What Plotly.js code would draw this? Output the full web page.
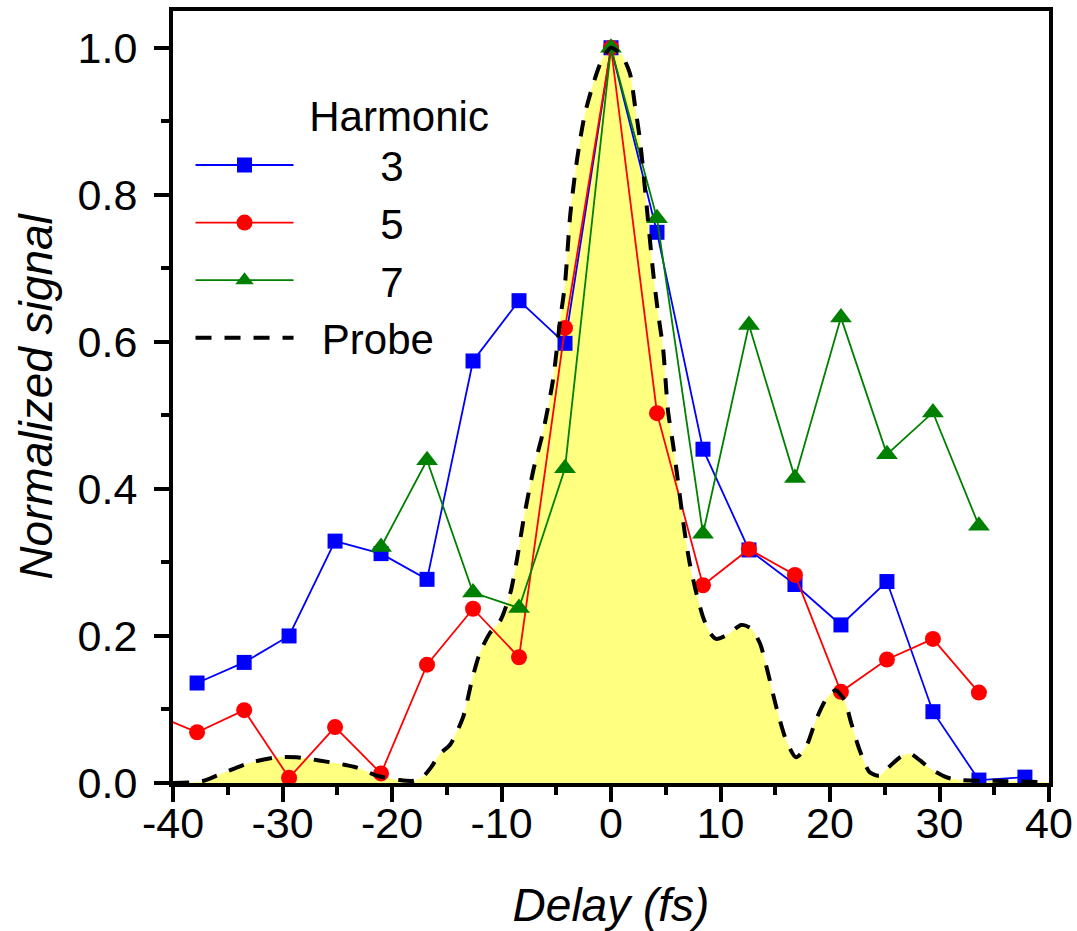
<!DOCTYPE html>
<html>
<head>
<meta charset="utf-8">
<script src="https://cdn.plot.ly/plotly-3.0.1.min.js"></script>
<style>html,body{margin:0;padding:0;background:#fff;}#chart{width:1077px;height:931px;}</style>
</head>
<body>
<div id="chart"></div>
<script>
// Harmonic 3 (blue squares)
const h3Delay = [-37.8, -33.5, -29.4, -25.2, -21.0, -16.8, -12.6, -8.4, -4.2, 0, 4.2, 8.4, 12.6, 16.8, 21.0, 25.2, 29.4, 33.6, 37.8];
const h3Signal = [0.136, 0.164, 0.200, 0.329, 0.312, 0.277, 0.574, 0.656, 0.598, 1.0, 0.749, 0.454, 0.317, 0.270, 0.215, 0.274, 0.097, 0.004, 0.008];

// Harmonic 5 (red circles)
const h5Delay = [-42.0, -37.8, -33.5, -29.4, -25.2, -21.0, -16.8, -12.6, -8.4, -4.2, 0, 4.2, 8.4, 12.6, 16.8, 21.0, 25.2, 29.4, 33.6];
const h5Signal = [0.095, 0.069, 0.099, 0.007, 0.076, 0.013, 0.161, 0.237, 0.171, 0.619, 1.0, 0.503, 0.269, 0.318, 0.283, 0.124, 0.168, 0.196, 0.123];

// Harmonic 7 (green triangles)
const h7Delay = [-21.0, -16.8, -12.6, -8.4, -4.2, 0, 4.2, 8.4, 12.6, 16.8, 21.0, 25.2, 29.4, 33.6];
const h7Signal = [0.321, 0.439, 0.259, 0.238, 0.428, 1.0, 0.768, 0.339, 0.623, 0.415, 0.633, 0.447, 0.504, 0.350];

// Probe (dashed curve with yellow fill)
const probeDelay = [-40, -38, -37.2, -36.0, -34.0, -32.6, -30.5, -28.7, -26.8, -24.4, -23.2, -21.4, -19.3, -18.0, -17.2, -16.4, -15.6, -14.7, -13.5, -12.7, -12.0, -11.1, -10.1, -9.2, -8.6, -8.0, -7.1, -6.2, -5.3, -4.65, -4.2, -3.74, -3.28, -2.83, -2.37, -1.6, -0.85, 0, 0.97, 1.73, 2.2, 2.65, 3.26, 3.86, 4.3, 4.77, 5.2, 5.7, 6.1, 6.7, 7.2, 7.8, 8.4, 9.0, 9.6, 10.55, 11.9, 12.8, 13.6, 14.35, 15.1, 16.0, 16.9, 17.8, 18.7, 19.6, 20.5, 21.3, 21.95, 22.7, 23.6, 24.5, 25.4, 26.4, 27.3, 28.2, 29.1, 30.6, 31.8, 34.9, 40];
const probeSignal = [0.000, 0.001, 0.003, 0.010, 0.022, 0.029, 0.035, 0.035, 0.031, 0.025, 0.021, 0.010, 0.004, 0.003, 0.008, 0.022, 0.040, 0.052, 0.090, 0.140, 0.176, 0.203, 0.221, 0.258, 0.303, 0.357, 0.425, 0.478, 0.548, 0.629, 0.679, 0.770, 0.829, 0.874, 0.911, 0.952, 0.983, 1.000, 0.990, 0.965, 0.920, 0.874, 0.784, 0.693, 0.639, 0.589, 0.507, 0.457, 0.412, 0.344, 0.298, 0.258, 0.226, 0.205, 0.196, 0.201, 0.215, 0.210, 0.190, 0.149, 0.103, 0.058, 0.035, 0.049, 0.085, 0.113, 0.126, 0.113, 0.081, 0.045, 0.015, 0.010, 0.022, 0.035, 0.040, 0.031, 0.020, 0.008, 0.004, 0.003, 0.001];

// Tick labels
const xTickVals = [-40, -30, -20, -10, 0, 10, 20, 30, 40];
const xTickText = ['-40', '-30', '-20', '-10', '0', '10', '20', '30', '40'];
const yTickVals = [0, 0.2, 0.4, 0.6, 0.8, 1.0];
const yTickText = ['0.0', '0.2', '0.4', '0.6', '0.8', '1.0'];

const legendNames = ['3', '5', '7', 'Probe'];
const legendTitle = 'Harmonic';

const FONT = 'Liberation Sans, Arial, Helvetica, sans-serif';
const nb = n => '\u00A0'.repeat(n);

const traces = [
  {
    x: probeDelay, y: probeSignal, type: 'scatter', mode: 'lines',
    line: {width: 0, color: 'rgba(0,0,0,0)', shape: 'spline', smoothing: 0.7},
    fill: 'tozeroy', fillcolor: '#FFFF80', showlegend: false, hoverinfo: 'skip'
  },
  {
    x: h3Delay, y: h3Signal, type: 'scatter', mode: 'lines+markers', name: nb(7) + legendNames[0],
    line: {color: '#0000FF', width: 1.8},
    marker: {symbol: 'square', size: 15, color: '#0000FF'}
  },
  {
    x: h5Delay, y: h5Signal, type: 'scatter', mode: 'lines+markers', name: nb(7) + legendNames[1],
    line: {color: '#FF0000', width: 1.8},
    marker: {symbol: 'circle', size: 16, color: '#FF0000'}
  },
  {
    x: h7Delay, y: h7Signal, type: 'scatter', mode: 'lines+markers', name: nb(7) + legendNames[2],
    line: {color: '#008000', width: 1.8},
    marker: {symbol: 'triangle-up', size: 19, color: '#008000'}
  },
  {
    x: probeDelay, y: probeSignal, type: 'scatter', mode: 'lines', name: nb(2) + legendNames[3],
    line: {color: '#000000', width: 4, dash: '16px,13px', shape: 'spline', smoothing: 0.7}
  }
];

const layout = {
  width: 1077, height: 931,
  margin: {l: 173, r: 28, t: 11, b: 148},
  paper_bgcolor: '#ffffff', plot_bgcolor: '#ffffff',
  font: {family: FONT, size: 43, color: '#000'},
  showlegend: true,
  legend: {
    x: 0.02, y: 0.915, xanchor: 'left', yanchor: 'top',
    bgcolor: 'rgba(0,0,0,0)', borderwidth: 0,
    font: {family: FONT, size: 42, color: '#000'},
    itemwidth: 98, tracegroupgap: 0,
    title: {text: nb(10) + legendTitle, side: 'top', font: {family: FONT, size: 42, color: '#000'}}
  },
  xaxis: {
    range: [-40, 40], showgrid: false, zeroline: false,
    showline: true, linecolor: '#000', linewidth: 4, mirror: true,
    ticks: 'outside', ticklen: 15, tickwidth: 4, tickcolor: '#000',
    tickmode: 'array', tickvals: xTickVals, ticktext: xTickText,
    tickfont: {family: FONT, size: 43, color: '#000'},
    ticklabelstandoff: -16,
    minor: {dtick: 5, ticks: 'outside', ticklen: 8, tickwidth: 4, tickcolor: '#000', showgrid: false},
    title: {text: 'Delay (fs)', standoff: 46, font: {family: FONT, size: 46, style: 'italic', color: '#000'}}
  },
  yaxis: {
    range: [0, 1.05], showgrid: false, zeroline: false,
    showline: true, linecolor: '#000', linewidth: 4, mirror: true,
    ticks: 'outside', ticklen: 15, tickwidth: 4, tickcolor: '#000',
    tickmode: 'array', tickvals: yTickVals, ticktext: yTickText,
    tickfont: {family: FONT, size: 43, color: '#000'},
    ticklabelstandoff: 8,
    minor: {dtick: 0.1, ticks: 'outside', ticklen: 8, tickwidth: 4, tickcolor: '#000', showgrid: false},
    title: {text: 'Normalized signal' + nb(5), standoff: 12, font: {family: FONT, size: 46, style: 'italic', color: '#000'}}
  },
  xaxis2: {
    overlaying: 'x', side: 'top', anchor: 'y', range: [-40, 40],
    showgrid: false, zeroline: false, showline: false, showticklabels: false,
    ticks: 'inside', ticklen: 4, tickwidth: 3, tickcolor: '#000', dtick: 5, tick0: 0
  },
  yaxis2: {
    overlaying: 'y', side: 'right', anchor: 'x', range: [0, 1.05],
    showgrid: false, zeroline: false, showline: false, showticklabels: false,
    ticks: 'inside', ticklen: 4, tickwidth: 3, tickcolor: '#000', dtick: 0.1, tick0: 0
  }
};

Plotly.newPlot('chart', traces, layout, {displayModeBar: false, staticPlot: true});
</script>
</body>
</html>
